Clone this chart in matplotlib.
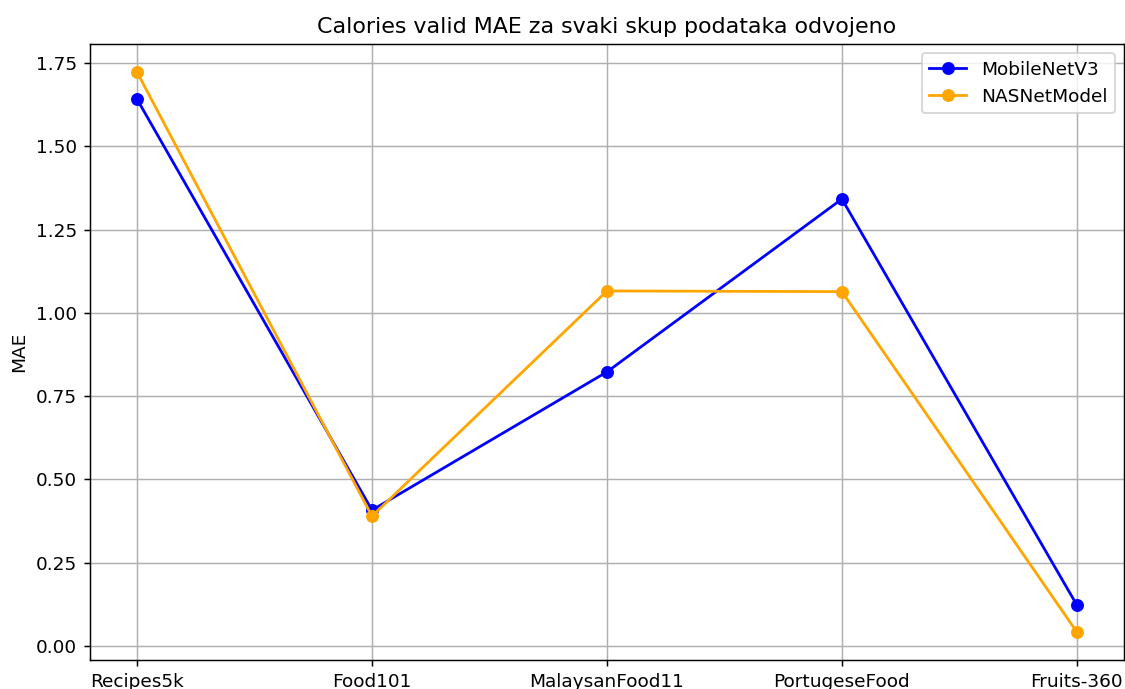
import matplotlib
matplotlib.use('Agg')
import matplotlib.pyplot as plt

# Data
datasets = ['Recipes5k', 'Food101', 'MalaysanFood11', 'PortugeseFood', 'Fruits-360']
mobilenet_mae = [1.642, 0.408, 0.823, 1.342, 0.123]
nasnet_mae = [1.723, 0.390, 1.066, 1.064, 0.042]

DPI = 133
fig = plt.figure(figsize=(1125 / DPI, 689 / DPI), dpi=DPI)
ax = fig.add_axes([0.08, 0.042, 0.919, 0.894])

ax.plot(datasets, mobilenet_mae, marker='o', color='blue', label='MobileNetV3')
ax.plot(datasets, nasnet_mae, marker='o', color='orange', label='NASNetModel')

ax.set_title('Calories valid MAE za svaki skup podataka odvojeno')
ax.set_ylabel('MAE')
ax.grid(True)
ax.legend(loc='upper right')

fig.savefig('out.png', dpi=DPI)
plt.close(fig)
